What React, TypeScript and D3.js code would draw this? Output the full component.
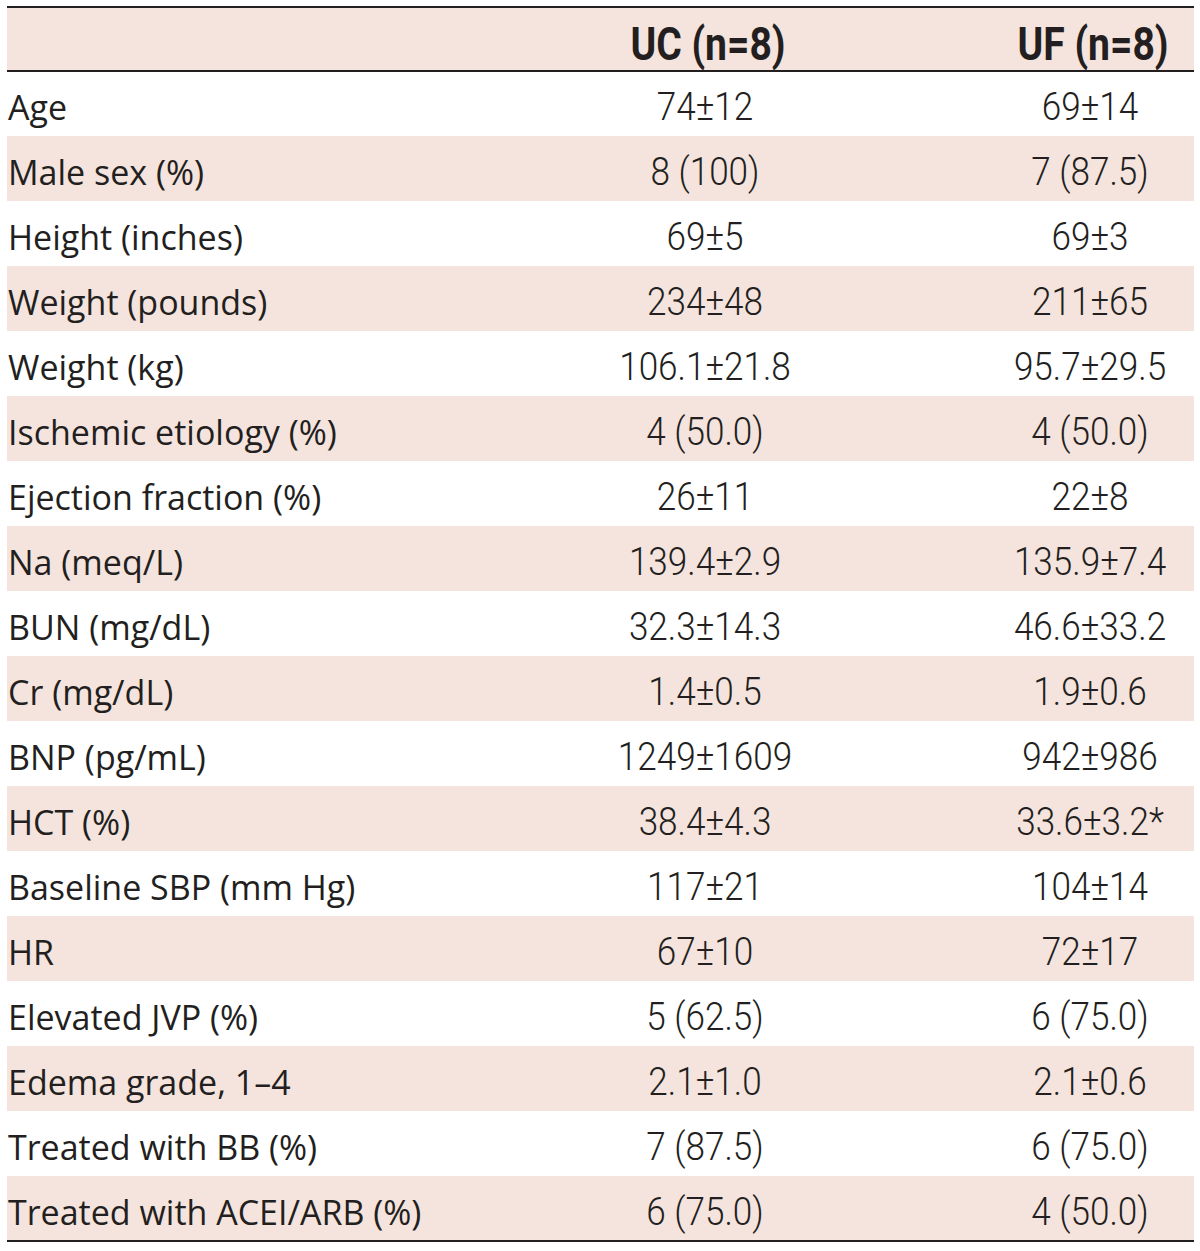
import React from "react";
import * as d3 from "d3";

const headers = ["", "UC (n=8)", "UF (n=8)"];
const labels = [
  "Age",
  "Male sex (%)",
  "Height (inches)",
  "Weight (pounds)",
  "Weight (kg)",
  "Ischemic etiology (%)",
  "Ejection fraction (%)",
  "Na (meq/L)",
  "BUN (mg/dL)",
  "Cr (mg/dL)",
  "BNP (pg/mL)",
  "HCT (%)",
  "Baseline SBP (mm Hg)",
  "HR",
  "Elevated JVP (%)",
  "Edema grade, 1–4",
  "Treated with BB (%)",
  "Treated with ACEI/ARB (%)",
];
const ucValues = [
  "74±12", "8 (100)", "69±5", "234±48", "106.1±21.8", "4 (50.0)", "26±11",
  "139.4±2.9", "32.3±14.3", "1.4±0.5", "1249±1609", "38.4±4.3", "117±21",
  "67±10", "5 (62.5)", "2.1±1.0", "7 (87.5)", "6 (75.0)",
];
const ufValues = [
  "69±14", "7 (87.5)", "69±3", "211±65", "95.7±29.5", "4 (50.0)", "22±8",
  "135.9±7.4", "46.6±33.2", "1.9±0.6", "942±986", "33.6±3.2*", "104±14",
  "72±17", "6 (75.0)", "2.1±0.6", "6 (75.0)", "4 (50.0)",
];

const W = 1200;
const H = 1251;
const left = 7;
const right = 1194;
const top = 7;
const headerH = 64;
const rowH = 65;
const ink = "#231f20";
const shade = "#f5e4de";

export default function App() {
  const y = d3
    .scaleBand<number>()
    .domain(d3.range(labels.length))
    .range([top + headerH, top + headerH + rowH * labels.length])
    .paddingInner(0)
    .paddingOuter(0);
  const colX = [8, 705, 1090];
  const bottom = top + headerH + rowH * labels.length;

  return (
    <svg width={W} height={H} style={{ position: "absolute", left: 0, top: 0 }}>
      <rect x={0} y={0} width={W} height={H} fill="#fff" />
      <rect x={left} y={top} width={right - left} height={headerH} fill={shade} />
      {labels.map((_, i) =>
        i % 2 === 1 ? (
          <rect key={"s" + i} x={left} y={y(i)!} width={right - left} height={y.bandwidth()} fill={shade} />
        ) : null
      )}
      <line x1={left} x2={right} y1={top} y2={top} stroke={ink} strokeWidth={2} />
      <line x1={left} x2={right} y1={top + headerH} y2={top + headerH} stroke={ink} strokeWidth={2} />
      <line x1={left} x2={right} y1={bottom} y2={bottom} stroke={ink} strokeWidth={2} />
      {headers.map((h, j) =>
        h ? (
          <text
            key={"h" + j}
            transform={`translate(${colX[j] + 3},${top + headerH / 2 + 21}) scale(0.85,1)`}
            textAnchor="middle"
            fontFamily="Roboto, 'Noto Sans', sans-serif"
            fontWeight={700}
            fontSize={46}
            fill={ink}
          >
            {h}
          </text>
        ) : null
      )}
      {labels.map((l, i) => {
        const cy = y(i)! + y.bandwidth() / 2;
        return (
          <g key={"r" + i}>
            <text x={colX[0]} y={cy + 16} fontFamily="'Open Sans', sans-serif" fontWeight={400} fontSize={34} fill={ink}>
              {l}
            </text>
            <text
              transform={`translate(${colX[1]},${cy + 16}) scale(0.9,1)`}
              textAnchor="middle"
              fontFamily="Roboto, sans-serif"
              fontWeight={300}
              fontSize={39}
              fill={ink}
            >
              {ucValues[i]}
            </text>
            <text
              transform={`translate(${colX[2]},${cy + 16}) scale(0.9,1)`}
              textAnchor="middle"
              fontFamily="Roboto, sans-serif"
              fontWeight={300}
              fontSize={39}
              fill={ink}
            >
              {ufValues[i]}
            </text>
          </g>
        );
      })}
    </svg>
  );
}
